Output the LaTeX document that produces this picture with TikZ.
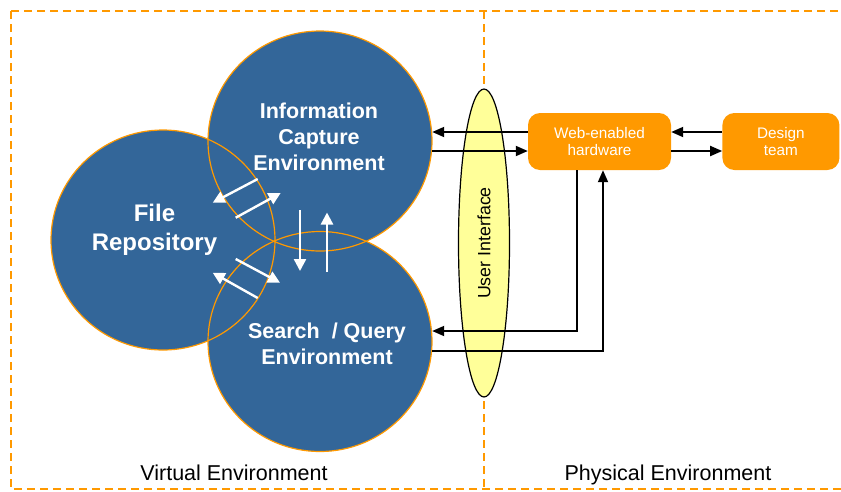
\documentclass[tikz,border=0pt]{standalone}
\usepackage{fontspec}
\setmainfont{Liberation Sans}
\usetikzlibrary{arrows.meta, shapes.geometric, positioning, calc}
\definecolor{ColorA}{HTML}{336699}
\definecolor{ColorB}{HTML}{FF9900}
\definecolor{ColorC}{HTML}{FFFF99}

\begin{document}
\begin{tikzpicture}[x=1pt, y=-1pt,
env/.style={
	ellipse,
	fill = ColorA,
	minimum width=224pt,
	minimum height=220pt,
	inner sep=0pt},
envline/.style={
	draw = ColorB,
	line width=1.2pt},
title/.style={
	font=\bfseries\fontsize{21.5}{26}\selectfont,
	align=center,
	text = white},
hwbox/.style={
	rectangle,
	fill = ColorB,
	rounded corners = 12pt,
	minimum height=57pt,
	align=center,
	inner sep=0mm,
	font=\fontsize{15.3}{17}\selectfont,
	text = white},
ui/.style={
	ellipse,
	draw,
	fill = ColorC,
	line width=1.2pt,
	rotate=90,
	minimum width=308pt,
	minimum height=51pt,
	inner sep=0pt,
	font=\fontsize{17.8}{20}\selectfont},
frame/.style={
	draw = ColorB,
	line width=1.3pt,
	dash pattern=on 8pt off 5pt},
link/.style={
	->,
	draw,
	line width=1.8pt,
	>={Triangle[width=10pt, length=12pt]}},
swap/.style={
	->,
	draw = white,
	line width=2.4pt,
	>={Triangle[width=12pt, length=12pt]}},
area/.style={
	font=\fontsize{21.5}{26}\selectfont,
	anchor=base}]

\useasboundingbox (0,0) rectangle (841,491);

%Frame
\draw[frame] (11,11) rectangle (850,489);
\draw[frame] (484,11) -- (484,489);

%Environments
\node[env] (file) at (163,240) {};
\node[env] (info) at (320,141) {};
\node[env] (search) at (320,341.5) {};

\foreach \e in {file, info, search} {
	\draw[envline] (\e.center) ellipse [x radius=112pt, y radius=110pt];
}

\node[title] (infoTxt) at (319,137.2) {Information\\ Capture\\ Environment};
\node[title, font=\bfseries\fontsize{24}{29}\selectfont] (fileTxt) at (154.5,229.3) {File\\ Repository};
\node[title] (searchTxt) at (327,343.6) {Search~~/ Query\\ Environment};

%Exchanges
\coordinate (fi1) at (257.7,179);
\coordinate (fi2) at (212.7,202.7);
\coordinate (fi3) at (235.7,217.7);
\coordinate (fi4) at (280.7,193);
\coordinate (fs1) at (235.7,259);
\coordinate (fs2) at (280,282.7);
\coordinate (fs3) at (257.7,298);
\coordinate (fs4) at (212.7,272.7);
\coordinate (is1) at (300,210);
\coordinate (is2) at (300,271);
\coordinate (is3) at (327,272);
\coordinate (is4) at (327,212.5);

\foreach \a/\b in {fi1/fi2, fi3/fi4, fs1/fs2, fs3/fs4, is1/is2, is3/is4} {
	\path[swap] (\a) to (\b);
}

%User interface
\node[ui] (ui) at (484,243) {User Interface};

%Physical side
\node[hwbox, minimum width=143pt] (hw) at (599.5,141.5) {Web-enabled\\ hardware};
\node[hwbox, minimum width=117pt, right = 51pt of hw] (team) {Design\\ team};

\coordinate (hwA) at ([yshift=9.5pt]hw.west);
\coordinate (hwB) at ([yshift=-9.5pt]hw.west);
\coordinate (hwC) at ([xshift=-22.5pt]hw.south);
\coordinate (hwD) at ([xshift=3.5pt]hw.south);
\coordinate (qA) at ([yshift=10.5pt]search.east);
\coordinate (qB) at ([yshift=-9.5pt]search.east);

\path[link] (hwA) to (hwA -| info.east);
\path[link] (hwB -| info.east) to (hwB);
\path[link] ([yshift=9.5pt]team.west) to ([yshift=9.5pt]hw.east);
\path[link] ([yshift=-9.5pt]hw.east) to ([yshift=-9.5pt]team.west);
\draw[link] (hwC) |- (qA);
\draw[link] (qB) -| (hwD);

%Labels
\node[area] (virtual) at (234,480) {Virtual Environment};
\node[area] (physical) at (668,480) {Physical Environment};
\end{tikzpicture}
\end{document}
